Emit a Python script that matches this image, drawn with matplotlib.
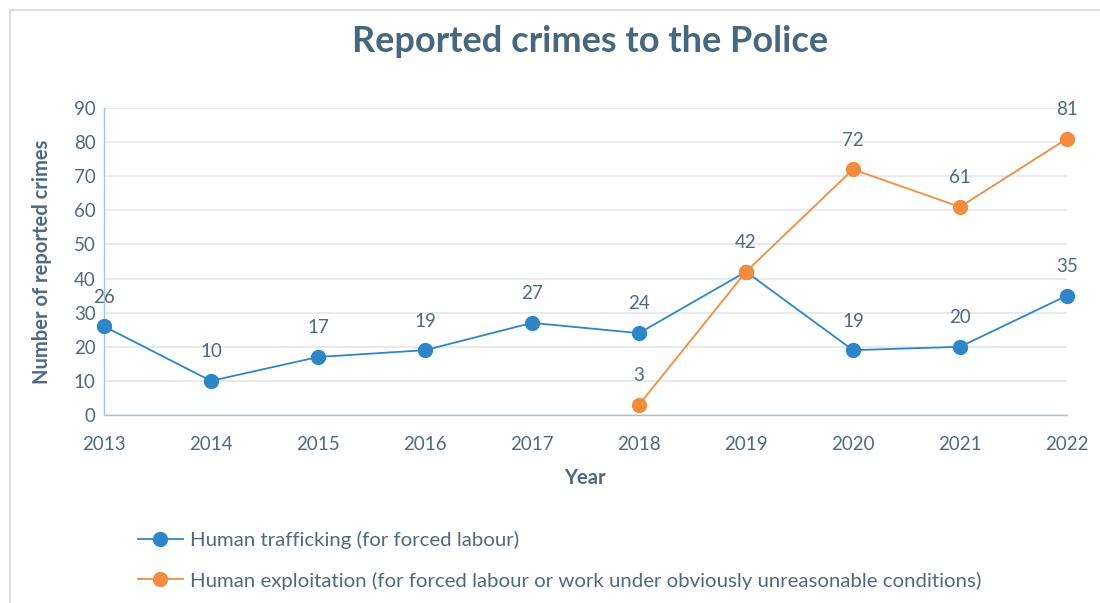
import matplotlib
matplotlib.use("Agg")
import matplotlib.pyplot as plt
from matplotlib.lines import Line2D

years = [2013, 2014, 2015, 2016, 2017, 2018, 2019, 2020, 2021, 2022]
trafficking = [26, 10, 17, 19, 27, 24, 42, 19, 20, 35]
exploit_years = [2018, 2019, 2020, 2021, 2022]
exploitation = [3, 42, 72, 61, 81]
yticks = [0, 10, 20, 30, 40, 50, 60, 70, 80, 90]

title = "Reported crimes to the Police"
ylabel = "Number of reported crimes"
xlabel = "Year"
label_a = "Human trafficking (for forced labour)"
label_b = "Human exploitation (for forced labour or work under obviously unreasonable conditions)"

plt.rcParams['font.family'] = ['Lato', 'DejaVu Sans']

TXT = '#4E6A7E'
TITLE_C = '#46687E'
BLUE = '#2E86C9'
ORANGE = '#F28C3E'
GRID = '#E3E8EC'
AXC = '#A9C4D8'

fig = plt.figure(figsize=(11, 6.03), dpi=100)
ax = fig.add_axes([104/1100, 1 - 415/603, (1067-104)/1100, (415-108)/603])

ax.plot(years, trafficking, color=BLUE, lw=1.3, marker='o', ms=10,
        markeredgecolor=BLUE, markerfacecolor=BLUE, label=label_a, zorder=3,
        clip_on=False)
ax.plot(exploit_years, exploitation, color=ORANGE, lw=1.3, marker='o', ms=10,
        markeredgecolor=ORANGE, markerfacecolor=ORANGE, label=label_b, zorder=3,
        clip_on=False)

done = set()
for xs, ys in ((years, trafficking), (exploit_years, exploitation)):
    for x, y in zip(xs, ys):
        if (x, y) in done:
            continue
        done.add((x, y))
        ax.annotate(str(y), (x, y), xytext=(0, 21), textcoords='offset points',
                    ha='center', va='center', fontsize=13.5, color=TXT)

ax.set_xlim(years[0], years[-1])
ax.set_ylim(yticks[0], yticks[-1])
ax.set_yticks(yticks)
ax.set_xticks(years)
ax.set_xticklabels([str(y) for y in years])
ax.grid(axis='y', color=GRID, lw=1.2)
ax.set_axisbelow(True)
for s in ('top', 'right'):
    ax.spines[s].set_visible(False)
for s in ('left', 'bottom'):
    ax.spines[s].set_color(AXC)
    ax.spines[s].set_linewidth(1.0)
ax.tick_params(axis='both', length=0, labelsize=13.5, labelcolor=TXT)
ax.tick_params(axis='x', pad=15)
ax.tick_params(axis='y', pad=6)

fig.text(590/1100, 1 - 41/603, title, ha='center', va='center',
         fontsize=26, fontweight='bold', color=TITLE_C)
fig.text(42/1100, 1 - 262/603, ylabel, ha='center', va='center', rotation=90,
         fontsize=14.5, fontweight='bold', color=TXT)
fig.text(585/1100, 1 - 478/603, xlabel, ha='center', va='center',
         fontsize=14.5, fontweight='bold', color=TXT)

handles = [Line2D([], [], color=BLUE, lw=1.3, marker='o', ms=10),
           Line2D([], [], color=ORANGE, lw=1.3, marker='o', ms=10)]
leg = fig.legend(handles, [label_a, label_b], loc='upper left',
                 bbox_to_anchor=(138/1100, 1 - 531/603), frameon=False,
                 fontsize=14.7, labelcolor=TXT, handlelength=2.2,
                 handletextpad=0.35, labelspacing=1.1, borderaxespad=0,
                 borderpad=0)

# outer frame
fig.add_artist(Line2D([10/1100, 1], [1 - 10/603, 1 - 10/603], color='#D9D9D9', lw=1.2,
                      transform=fig.transFigure))
fig.add_artist(Line2D([10/1100, 10/1100], [0, 1 - 10/603], color='#D9D9D9', lw=1.2,
                      transform=fig.transFigure))

fig.savefig('out.png', dpi=100, facecolor='white')
